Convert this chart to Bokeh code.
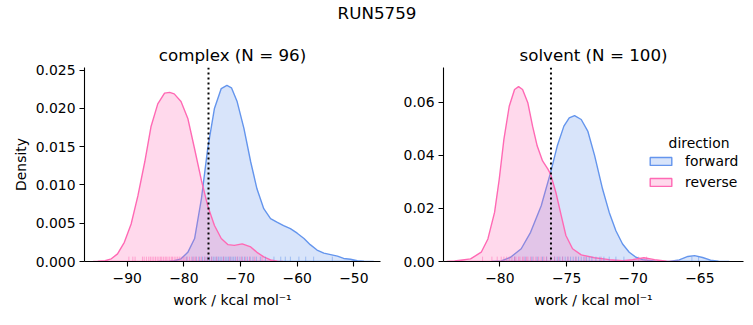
from bokeh.plotting import figure
from bokeh.models import (Range1d, FixedTicker, NumeralTickFormatter, Legend,
                          LegendItem, Label, Span, ColumnDataSource)
from bokeh.layouts import column, row
from bokeh.embed import file_html
from bokeh.resources import INLINE

# ---------------- data ----------------
suptitle = "RUN5759"
phases = ["complex", "solvent"]
phase_n = [96, 100]
directions = ["forward", "reverse"]

# complex phase KDE curves (work in kcal/mol, density)
complex_fwd_x = [-84.5, -82.5, -81.7, -80.5, -79.3, -78.1, -76.9, -75.8, -74.6, -73.4,
                 -72.4, -71.6, -70.6, -69.4, -68.2, -67.1, -65.9, -64.7, -63.5, -62.4,
                 -61.2, -60.0, -58.8, -57.7, -56.5, -55.3, -54.1, -52.9, -51.8, -50.6,
                 -49.4, -48.2, -46.5]
complex_fwd_y = [0.0, 0.00005, 0.00012, 0.00035, 0.0012, 0.0030, 0.0082, 0.0147, 0.0200, 0.0226,
                 0.0230, 0.0227, 0.0209, 0.0174, 0.0130, 0.0095, 0.0069, 0.0056, 0.0051, 0.0047,
                 0.0043, 0.0037, 0.0030, 0.0022, 0.0015, 0.0011, 0.0009, 0.0007, 0.0004, 0.0003,
                 0.0001, 0.00003, 0.0]
complex_rev_x = [-96.0, -95.2, -93.9, -92.8, -91.7, -90.5, -89.3, -88.1, -86.9, -85.8,
                 -84.6, -83.4, -82.5, -81.7, -80.5, -79.3, -78.1, -76.9, -75.8, -74.6,
                 -73.4, -72.2, -71.1, -69.7, -68.2, -67.1, -65.9, -64.7, -63.5, -62.5]
complex_rev_y = [0.0, 0.00003, 0.00012, 0.00035, 0.0010, 0.0025, 0.0049, 0.0086, 0.0130, 0.0176,
                 0.0206, 0.0220, 0.0221, 0.0219, 0.0209, 0.0187, 0.0147, 0.0106, 0.0073, 0.0047,
                 0.0030, 0.0022, 0.0021, 0.0023, 0.0019, 0.0012, 0.0006, 0.0002, 0.00003, 0.0]

# solvent phase KDE curves
solvent_fwd_x = [-80.6, -79.9, -79.2, -78.4, -77.7, -76.9, -76.2, -75.7, -75.2, -74.8,
                 -74.4, -73.9, -73.4, -72.9, -72.3, -71.8, -71.3, -70.8, -70.3, -69.8,
                 -69.3, -68.3, -67.3, -66.55, -65.9, -65.4, -64.8, -64.2, -63.6, -62.8]
solvent_fwd_y = [0.0, 0.0002, 0.0016, 0.0048, 0.0110, 0.0210, 0.0335, 0.0435, 0.0510, 0.0541,
                 0.0550, 0.0535, 0.0490, 0.0400, 0.0273, 0.0185, 0.0116, 0.0066, 0.0035, 0.0016,
                 0.0007, 0.0001, 0.00003, 0.0006, 0.0019, 0.0022, 0.0015, 0.0005, 0.0001, 0.0]
solvent_rev_x = [-84.0, -83.4, -82.2, -81.4, -80.9, -80.4, -80.05, -79.7, -79.3, -78.9,
                 -78.6, -78.3, -77.9, -77.55, -77.2, -76.8, -76.4, -76.2, -75.8, -75.4,
                 -75.05, -74.55, -73.9, -72.9, -71.8, -70.8, -70.05, -69.2, -68.4, -67.5, -66.5]
solvent_rev_y = [0.0, 0.0002, 0.0010, 0.0035, 0.0085, 0.0185, 0.0310, 0.0460, 0.0585, 0.0648,
                 0.0659, 0.0648, 0.0597, 0.0510, 0.0435, 0.0379, 0.0348, 0.0329, 0.0260, 0.0173,
                 0.0098, 0.0048, 0.0025, 0.0014, 0.0007, 0.0003, 0.0007, 0.0014, 0.0007, 0.0001, 0.0]

# individual work values (rug)
complex_fwd_work = [-79.5, -78.4, -77.8, -77.2, -76.7, -76.3, -75.9, -75.5, -75.1, -74.8,
                    -74.5, -74.2, -73.9, -73.6, -73.3, -73.0, -72.7, -72.4, -72.1, -71.8,
                    -71.5, -71.2, -70.9, -70.5, -70.1, -69.7, -69.3, -68.8, -68.3, -67.8,
                    -67.2, -66.5, -65.6, -64.1, -62.9, -62.1, -61.2, -59.7, -58.5, -57.1, -53.8]
complex_rev_work = [-89.7, -89.0, -88.6, -87.3, -87.0, -86.6, -86.2, -85.9, -85.6, -85.3,
                    -85.0, -84.7, -84.4, -84.1, -83.9, -83.6, -83.3, -83.1, -82.8, -82.5,
                    -82.2, -82.0, -81.7, -81.4, -81.1, -80.8, -80.5, -80.1, -79.8, -79.4,
                    -79.0, -78.6, -78.2, -77.9, -77.4, -76.9, -76.3, -75.8, -75.1, -74.2,
                    -73.0, -71.9, -70.6, -69.8, -69.1, -68.4, -67.5, -66.2]
solvent_fwd_work = [-78.9, -78.1, -77.6, -77.2, -76.8, -76.5, -76.2, -75.9, -75.7, -75.5,
                    -75.3, -75.1, -74.9, -74.7, -74.5, -74.3, -74.1, -73.9, -73.7, -73.5,
                    -73.3, -73.1, -72.8, -72.5, -72.2, -71.8, -71.3, -70.7, -65.6, -65.1]
solvent_rev_work = [-81.3, -80.6, -80.2, -79.9, -79.7, -79.5, -79.3, -79.1, -78.9, -78.8,
                    -78.6, -78.5, -78.3, -78.2, -78.0, -77.9, -77.7, -77.5, -77.3, -77.1,
                    -76.9, -76.7, -76.5, -76.2, -75.9, -75.6, -75.3, -74.9, -74.3, -73.6,
                    -72.4, -69.6, -69.0]

# free energy estimates (dotted lines)
estimate = [-75.65, -76.17]

# axes
complex_xticks = [-90, -80, -70, -60, -50]
complex_yticks = [0.0, 0.005, 0.010, 0.015, 0.020, 0.025]
solvent_xticks = [-80, -75, -70, -65]
solvent_yticks = [0.0, 0.02, 0.04, 0.06]
complex_xlim = (-97.53, -45.3)
complex_ylim = (0.0, 0.02535)
solvent_xlim = (-84.23, -61.73)
solvent_ylim = (0.0, 0.0731)

# ---------------- styling ----------------
FONT = "DejaVu Sans"
COLORS = {"forward": "#6495ed", "reverse": "#ff69b4"}
TICK_PX = "13.9px"
TITLE_PX = "16.7px"


def style_axes(p, xticks, yticks, yfmt):
    p.xaxis.ticker = FixedTicker(ticks=xticks)
    p.yaxis.ticker = FixedTicker(ticks=yticks)
    p.xaxis.major_label_overrides = {t: ("\u2212" + str(abs(t)) if t < 0 else str(t)) for t in xticks}
    p.yaxis.formatter = NumeralTickFormatter(format=yfmt)
    for ax in p.xaxis + p.yaxis:
        ax.axis_line_color = "black"
        ax.axis_line_width = 1.1
        ax.major_tick_line_color = "black"
        ax.major_tick_line_width = 1.1
        ax.major_tick_out = 5
        ax.major_tick_in = 0
        ax.minor_tick_line_color = None
        ax.major_label_text_font = FONT
        ax.major_label_text_font_size = TICK_PX
        ax.major_label_text_color = "black"
        ax.axis_label_text_font = FONT
        ax.axis_label_text_font_size = TICK_PX
        ax.axis_label_text_font_style = "normal"
        ax.axis_label_text_color = "black"
    for ax in p.xaxis:
        ax.major_label_standoff = 6
        ax.axis_label_standoff = 6
    for ax in p.yaxis:
        ax.major_label_standoff = 4
        ax.axis_label_standoff = 4
    p.xgrid.visible = False
    p.ygrid.visible = False
    p.outline_line_color = None
    p.title.text_font = FONT
    p.title.text_font_size = TITLE_PX
    p.title.text_font_style = "normal"
    p.title.text_color = "black"
    p.title.align = "center"
    p.title.standoff = 6


def panel(title, xlim, ylim, curves, works, est, xticks, yticks, yfmt, ylabel,
          frame_w, border_l, border_r):
    p = figure(title=title, x_range=Range1d(*xlim), y_range=Range1d(*ylim),
               frame_width=frame_w, frame_height=194,
               min_border_left=border_l, min_border_right=border_r,
               min_border_top=37, min_border_bottom=64,
               toolbar_location=None, output_backend="svg",
               background_fill_color="white", border_fill_color="white")
    p.xaxis.axis_label = "work / kcal mol\u207b\u00b9"
    if ylabel:
        p.yaxis.axis_label = ylabel
    rends = {}
    for d in directions:
        cx, cy = curves[d]
        src = ColumnDataSource(dict(x=cx, y=cy))
        rends[d] = p.patch("x", "y", source=src, fill_color=COLORS[d], fill_alpha=0.25,
                           line_color=COLORS[d], line_width=1.4)
    rug_h = 0.025 * (ylim[1] - ylim[0])
    for d in directions:
        w = works[d]
        src = ColumnDataSource(dict(x0=w, y0=[ylim[0]] * len(w), y1=[ylim[0] + rug_h] * len(w)))
        p.segment("x0", "y0", "x0", "y1", source=src, line_color=COLORS[d],
                  line_alpha=0.5, line_width=1)
    p.add_layout(Span(location=est, dimension="height", line_color="black",
                      line_width=2, line_dash="2 3"))
    style_axes(p, xticks, yticks, yfmt)
    return p, rends


p1, r1 = panel(f"{phases[0]} (N = {phase_n[0]})", complex_xlim, complex_ylim,
               {"forward": (complex_fwd_x, complex_fwd_y), "reverse": (complex_rev_x, complex_rev_y)},
               {"forward": complex_fwd_work, "reverse": complex_rev_work},
               estimate[0], complex_xticks, complex_yticks, "0.000", "Density",
               296, 84, 20)
p2, r2 = panel(f"{phases[1]} (N = {phase_n[1]})", solvent_xlim, solvent_ylim,
               {"forward": (solvent_fwd_x, solvent_fwd_y), "reverse": (solvent_rev_x, solvent_rev_y)},
               {"forward": solvent_fwd_work, "reverse": solvent_rev_work},
               estimate[1], solvent_xticks, solvent_yticks, "0.00", None,
               300, 39, 14)

legend = Legend(items=[LegendItem(label=d, renderers=[r2[d]]) for d in directions],
                location=(204, 71), glyph_width=27, glyph_height=10, label_standoff=11,
                padding=0, margin=0, spacing=5, label_height=14,
                border_line_color=None, background_fill_alpha=0,
                label_text_font=FONT, label_text_font_size=TICK_PX, label_text_color="black")
p2.add_layout(legend)
p2.add_layout(Label(x=255.5, y=119, x_units="screen", y_units="screen", text="direction",
                    text_align="center", text_baseline="middle", text_font=FONT,
                    text_font_size=TICK_PX, text_color="black"))

top = figure(width=753, height=30, title=suptitle, x_range=Range1d(0, 1), y_range=Range1d(0, 1),
             toolbar_location=None, output_backend="svg", min_border=0,
             outline_line_color=None, background_fill_color="white", border_fill_color="white")
top.axis.visible = False
top.xgrid.visible = False
top.ygrid.visible = False
top.title.text_font = FONT
top.title.text_font_size = TITLE_PX
top.title.text_font_style = "normal"
top.title.text_color = "black"
top.title.align = "center"
top.title.standoff = 0

layout = column(top, row(p1, p2))
open("out.html", "w").write(file_html(layout, INLINE))
